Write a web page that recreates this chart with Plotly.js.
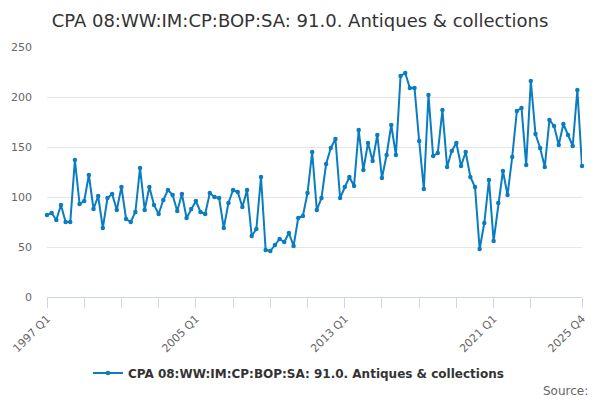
<!DOCTYPE html>
<html>
<head>
<meta charset="utf-8">
<script src="https://cdn.plot.ly/plotly-3.0.1.min.js"></script>
<style>html,body{margin:0;padding:0;background:#fff;}#chart{width:600px;height:400px;}</style>
</head>
<body>
<div id="chart"></div>
<script>
const seriesName = "CPA 08:WW:IM:CP:BOP:SA: 91.0. Antiques & collections";
const startYear = 1997;
const endYear = 2025;
const quarters = [];
for (let y = startYear; y <= endYear; y++) {
  for (let q = 1; q <= 4; q++) quarters.push(y + " Q" + q);
}
const values = [
  82, 84, 77, 92, 75, 75, 137, 93, 96, 122, 88, 101, 69, 99, 103, 87,
  110, 78, 75, 85, 129, 87, 110, 92, 83, 97, 107, 102, 86, 103, 79, 88,
  96, 85, 83, 104, 100, 99, 69, 94, 107, 105, 90, 107, 61, 68, 120, 47,
  46, 52, 58, 55, 64, 51, 79, 81, 104, 145, 87, 99, 133, 149, 158, 99,
  110, 120, 111, 167, 127, 154, 136, 162, 119, 142, 172, 142, 221, 224, 209, 209,
  156, 108, 202, 141, 144, 187, 130, 146, 154, 131, 145, 120, 110, 48, 74, 117,
  56, 94, 126, 102, 140, 186, 189, 132, 216, 163, 149, 130, 177, 171, 152, 173,
  162, 151, 207, 131
];
const tickQuarters = ["1997 Q1","1999 Q1","2001 Q1","2003 Q1","2005 Q1","2007 Q1","2009 Q1","2011 Q1","2013 Q1","2015 Q1","2017 Q1","2019 Q1","2021 Q1","2023 Q1","2025 Q4"];
const labelledQuarters = ["1997 Q1","2005 Q1","2013 Q1","2021 Q1","2025 Q4"];
const yTicks = [0, 50, 100, 150, 200, 250];

const trace = {
  x: quarters,
  y: values,
  type: 'scatter',
  mode: 'lines+markers',
  name: seriesName,
  cliponaxis: false,
  line: {color: '#0a7cc1', width: 2},
  marker: {color: '#0a7cc1', size: 4.5, symbol: 'circle'}
};

const layout = {
  width: 600, height: 400,
  margin: {l: 47, r: 18, t: 47, b: 103},
  paper_bgcolor: '#fff', plot_bgcolor: '#fff',
  font: {family: 'DejaVu Sans, sans-serif', color: '#666', size: 11},
  title: {text: 'CPA 08:WW:IM:CP:BOP:SA: 91.0. Antiques & collections', x: 0.5, xanchor: 'center', y: 0.948, yanchor: 'middle',
          font: {family: 'DejaVu Sans, sans-serif', size: 18, color: '#333'}},
  xaxis: {
    type: 'category',
    range: [0, quarters.length - 1],
    tickmode: 'array',
    tickvals: tickQuarters,
    ticktext: tickQuarters.map(t => labelledQuarters.includes(t) ? t : ''),
    tickangle: -45,
    ticks: 'outside', ticklen: 10, tickcolor: '#ccd6eb', tickwidth: 1,
    showline: true, linecolor: '#ccd6eb', linewidth: 1,
    showgrid: false, zeroline: false,
    tickfont: {size: 11, color: '#666'}
  },
  yaxis: {
    range: [0, 250],
    tickmode: 'array', tickvals: yTicks,
    showgrid: true, gridcolor: '#e6e6e6', gridwidth: 1,
    zeroline: false, showline: false,
    ticks: '', ticklabelstandoff: 14,
    tickfont: {size: 11, color: '#666'}
  },
  showlegend: true,
  legend: {orientation: 'h', x: 0.47, xanchor: 'center', y: -0.304, yanchor: 'middle',
           font: {family: 'DejaVu Sans, sans-serif', size: 12, color: '#333', weight: 'bold'}},
  annotations: [{text: 'Source:', xref: 'paper', yref: 'paper', x: 1.015, xanchor: 'right', y: -0.376, yanchor: 'middle',
                 showarrow: false, font: {family: 'DejaVu Sans, sans-serif', size: 12, color: '#666'}}]
};

Plotly.newPlot('chart', [trace], layout, {displayModeBar: false, staticPlot: true});
</script>
</body>
</html>
